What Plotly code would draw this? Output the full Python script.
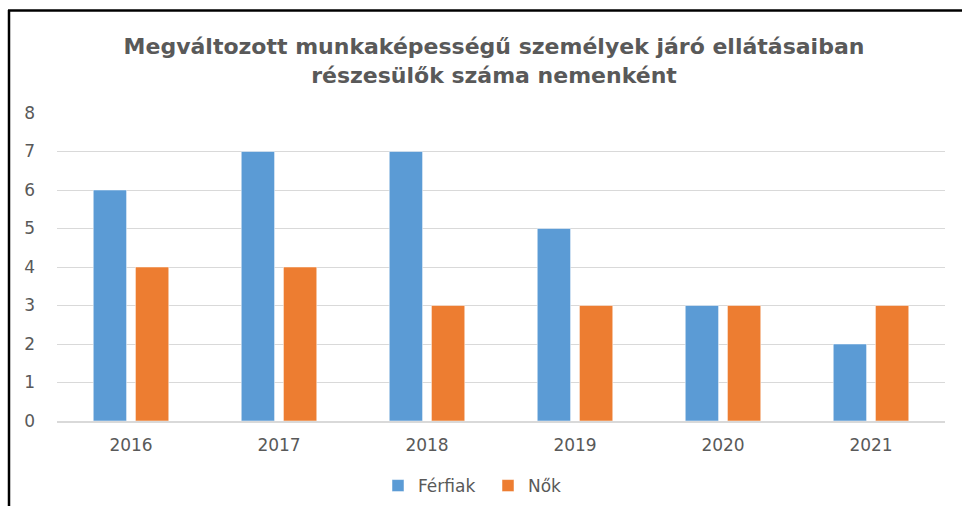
import plotly.graph_objects as go

years = ["2016", "2017", "2018", "2019", "2020", "2021"]
ferfiak = [6, 7, 7, 5, 3, 2]
nok = [4, 4, 3, 3, 3, 3]
title_text = "Megváltozott munkaképességű személyek járó ellátásaiban<br>részesülők száma nemenként"

L, R, T, B = 57, 17, 113, 85
W, H = 962, 506
pw, ph = W - L - R, H - T - B
FONT = "DejaVu Sans, sans-serif"

def px(x):
    return (x - L) / pw

def py(y):
    return (H - B - y) / ph

fig = go.Figure()
fig.add_trace(go.Bar(name="Férfiak", x=years, y=ferfiak, marker=dict(color="#5B9BD5", line=dict(color="white", width=0.5))))
fig.add_trace(go.Bar(name="Nők", x=years, y=nok, marker=dict(color="#ED7D31", line=dict(color="white", width=0.5))))

fig.update_layout(
    width=W, height=H,
    margin=dict(l=L, r=R, t=T, b=B),
    paper_bgcolor="white", plot_bgcolor="white",
    barmode="group", bargap=0.43, bargroupgap=0.21,
    font=dict(family=FONT, color="#595959"),
    title=dict(text=title_text, x=494 / W, xanchor="center", xref="container",
               y=1 - 54 / H, yanchor="middle", yref="container",
               font=dict(size=22, color="#595959", family=FONT, weight="bold")),
    showlegend=True,
    legend=dict(orientation="h", xref="container", yref="container",
                x=488 / W, xanchor="center", y=1 - 486 / H, yanchor="middle",
                font=dict(size=17, color="#595959", family=FONT), itemwidth=30, traceorder="normal",
                entrywidth=65, entrywidthmode="pixels"),
    xaxis=dict(showgrid=False, showline=True, linecolor="#D9D9D9", linewidth=1.5, automargin=False,
               tickfont=dict(size=17, color="#595959"), ticks="", ticklabelstandoff=8),
    yaxis=dict(range=[0, 8], dtick=1, showgrid=True, gridcolor="#D9D9D9", gridwidth=1, automargin=False,
               zeroline=False, tickfont=dict(size=17, color="#595959"), ticks="",
               ticklabelstandoff=21),
    shapes=[
        dict(type="line", xref="paper", yref="paper", x0=px(9), x1=px(9), y0=py(10), y1=py(510),
             line=dict(color="black", width=2.5)),
        dict(type="line", xref="paper", yref="paper", x0=px(8), x1=px(965), y0=py(10.5), y1=py(10.5),
             line=dict(color="black", width=2.5)),
    ],
)

fig.write_html("out.html", config={"displayModeBar": False},
               post_script="document.body.style.margin='0';")
